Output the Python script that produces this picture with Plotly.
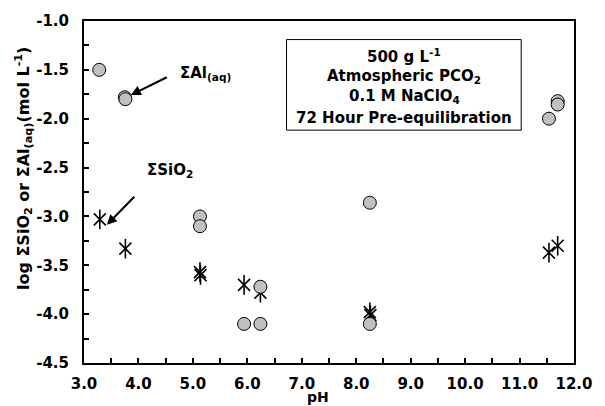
import plotly.graph_objects as go

# ---- data ----
al_ph = [3.28, 3.75, 3.76, 5.13, 5.13, 5.94, 6.24, 6.24, 8.25, 8.25, 11.70, 11.70, 11.54]
al_log = [-1.50, -1.78, -1.80, -3.00, -3.10, -4.10, -4.10, -3.72, -2.86, -4.10, -1.82, -1.855, -2.00]

si_ph = [3.29, 3.76, 5.13, 5.14, 5.94, 6.24, 8.25, 8.26, 11.54, 11.70]
si_log = [-3.03, -3.33, -3.57, -3.60, -3.70, -3.78, -3.98, -4.01, -3.37, -3.30]

x_tickvals = [3.0, 4.0, 5.0, 6.0, 7.0, 8.0, 9.0, 10.0, 11.0, 12.0]
x_ticktext = ["3.0", "4.0", "5.0", "6.0", "7.0", "8.0", "9.0", "10.0", "11.0", "12.0"]
y_tickvals = [-1.0, -1.5, -2.0, -2.5, -3.0, -3.5, -4.0, -4.5]
y_ticktext = ["-1.0", "-1.5", "-2.0", "-2.5", "-3.0", "-3.5", "-4.0", "-4.5"]

box_lines = ["500 g L<sup>-1</sup>", "Atmospheric PCO<sub>2</sub>",
             "0.1 M NaClO<sub>4</sub>", "72 Hour Pre-equilibration"]

FONT = "DejaVu Sans"

fig = go.Figure()

fig.add_trace(go.Scatter(
    x=si_ph, y=si_log, mode="markers", showlegend=False,
    marker=dict(symbol="x-thin-open", size=12, color="black",
                line=dict(color="black", width=1.6))))
fig.add_trace(go.Scatter(
    x=si_ph, y=si_log, mode="markers", showlegend=False,
    marker=dict(symbol="line-ns-open", size=14, color="black",
                line=dict(color="black", width=1.6))))
fig.add_trace(go.Scatter(
    x=al_ph, y=al_log, mode="markers", showlegend=False,
    marker=dict(symbol="circle", size=13, color="#C0C0C0",
                line=dict(color="black", width=1))))

axis_common = dict(showline=True, linecolor="black", linewidth=2, mirror=True,
                   showgrid=False, zeroline=False, ticks="inside",
                   ticklen=5, tickwidth=1.5, tickcolor="black",
                   tickfont=dict(family=FONT, size=15, color="black", weight="bold"))

fig.update_xaxes(range=[3.0, 12.0], tickvals=x_tickvals, ticktext=x_ticktext,
                 minor=dict(dtick=0.5, ticks="inside", ticklen=5, tickwidth=1.5,
                            tickcolor="black", tick0=3.0),
                 ticklabelstandoff=6, **axis_common)
fig.update_yaxes(range=[-4.5, -1.0], tickvals=y_tickvals, ticktext=y_ticktext,
                 minor=dict(dtick=0.25, ticks="inside", ticklen=5, tickwidth=1.5,
                            tickcolor="black", tick0=-4.5),
                 ticklabelstandoff=10, **axis_common)

annots = []
# info box lines
box_y = [-1.363, -1.565, -1.777, -1.989]
for t, yv in zip(box_lines, box_y):
    annots.append(dict(x=8.88, y=yv, xref="x", yref="y", text=t, showarrow=False,
                       xanchor="center", yanchor="middle",
                       font=dict(family=FONT, size=15, color="black", weight="bold")))
# labels
annots.append(dict(x=4.72, y=-1.535, xref="x", yref="y", text="ΣAl<sub>(aq)</sub>",
                   showarrow=False, xanchor="left", yanchor="middle",
                   font=dict(family=FONT, size=15, color="black", weight="bold")))
annots.append(dict(x=4.12, y=-2.53, xref="x", yref="y", text="ΣSiO<sub>2</sub>",
                   showarrow=False, xanchor="left", yanchor="middle",
                   font=dict(family=FONT, size=15, color="black", weight="bold")))
# arrows
annots.append(dict(x=3.86, y=-1.757, ax=4.55, ay=-1.568, xref="x", yref="y",
                   axref="x", ayref="y", text="", showarrow=True, arrowhead=2,
                   arrowsize=1, arrowwidth=2, arrowcolor="black"))
annots.append(dict(x=3.42, y=-3.086, ax=3.95, ay=-2.783, xref="x", yref="y",
                   axref="x", ayref="y", text="", showarrow=True, arrowhead=2,
                   arrowsize=1, arrowwidth=2, arrowcolor="black"))
# axis titles (placed in pixels, converted below)
annots.append(dict(x=23, y=406 - 166, xref="paper", yref="paper",
                   text="log ΣSiO<sub>2</sub> or ΣAl<sub>(aq)</sub>(mol L<sup>-1</sup>)",
                   showarrow=False, textangle=-90, xanchor="center", yanchor="middle",
                   font=dict(family=FONT, size=16, color="black", weight="bold")))
annots.append(dict(x=323, y=406 - 398, xref="paper", yref="paper", text="pH",
                   showarrow=False, xanchor="center", yanchor="middle",
                   font=dict(family=FONT, size=14, color="black", weight="bold")))

L, R, T, B = 84, 21, 16, 43
W, H = 605, 406
pw, ph = W - L - R, H - T - B
for a in annots[-2:]:
    a["x"] = (a["x"] - L) / pw
    a["y"] = (a["y"] - B) / ph

fig.update_layout(
    width=W, height=H, margin=dict(l=L, r=R, t=T, b=B),
    plot_bgcolor="white", paper_bgcolor="white",
    annotations=annots,
    shapes=[dict(type="rect", xref="x", yref="y", x0=6.72, x1=11.03,
                 y0=-1.19, y1=-2.117, line=dict(color="black", width=1),
                 fillcolor="white", layer="below")],
)

fig.write_html("out.html")
